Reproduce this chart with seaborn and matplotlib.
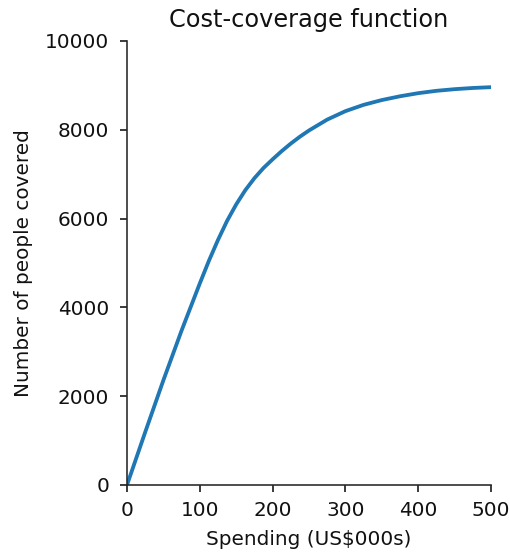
import matplotlib
matplotlib.use("Agg")
import matplotlib.pyplot as plt
import pandas as pd
import seaborn as sns

# Spending (US$000s) and the number of people covered at that spending level
spending = [0, 25, 50, 75, 100, 112.5, 125, 137.5, 150, 162.5, 175, 187.5,
            200, 212.5, 225, 237.5, 250, 275, 300, 325, 350, 375, 400,
            425, 450, 475, 500]
covered = [0, 1190, 2360, 3480, 4540, 5050, 5520, 5950, 6320, 6640, 6910, 7140,
           7335, 7520, 7690, 7845, 7985, 8230, 8420, 8562, 8670, 8755, 8825,
           8878, 8915, 8942, 8960]

x_ticks = [0, 100, 200, 300, 400, 500]
y_ticks = [0, 2000, 4000, 6000, 8000, 10000]

df = pd.DataFrame({"spending": spending, "covered": covered})

sns.set_style("ticks")
plt.rcParams["font.family"] = ["DejaVu Sans"]

fig = plt.figure(figsize=(510 / 144, 552 / 144), dpi=144)
ax = fig.add_axes([127 / 510, 1 - 485 / 552, (491 - 127) / 510, (485 - 41) / 552])

sns.lineplot(data=df, x="spending", y="covered", ax=ax,
             color="#1f77b4", linewidth=1.9)

ax.set_xlim(0, 500)
ax.set_ylim(0, 10000)
ax.set_xticks(x_ticks)
ax.set_yticks(y_ticks)
ax.tick_params(colors="#111111", labelsize=10)
ax.tick_params(axis="y", pad=5.5)
ax.tick_params(axis="x", pad=4.5)
ax.set_xlabel(r"Spending (US\$000s)", fontsize=10, color="#111111", labelpad=5)
ax.set_ylabel("Number of people covered", fontsize=10, color="#111111", labelpad=6)
ax.set_title("Cost-coverage function", fontsize=12, color="#111111", pad=7)
sns.despine(ax=ax)

fig.savefig("out.png", dpi=144)
